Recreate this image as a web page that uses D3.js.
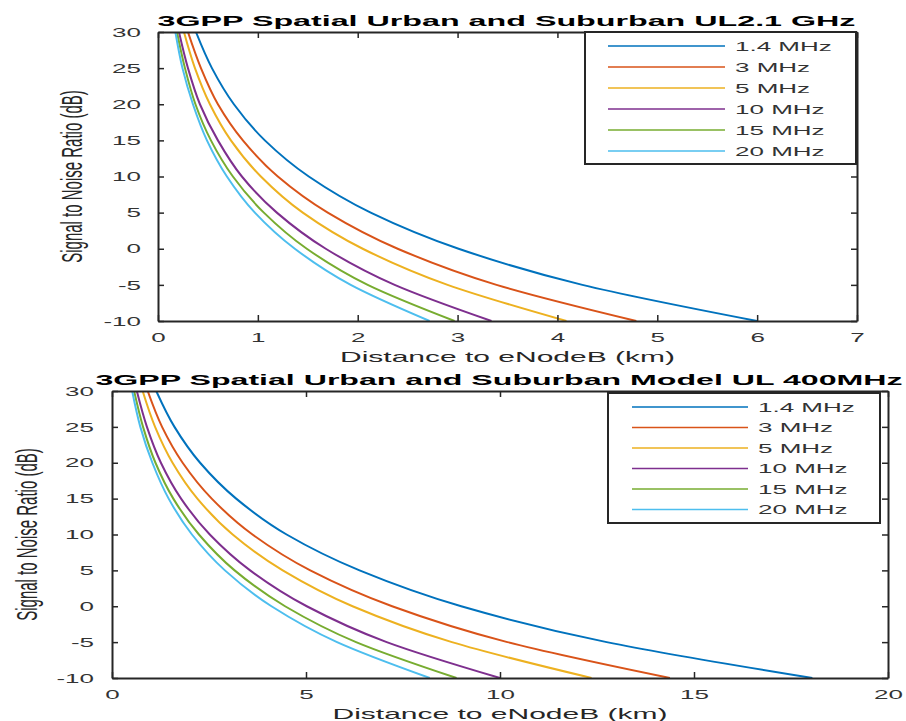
<!DOCTYPE html>
<html>
<head>
<meta charset="utf-8">
<script src="https://cdn.jsdelivr.net/npm/d3@7"></script>
<style>
  body { margin: 0; background: #fff; }
  svg { display: block; }
  text { font-family: Arial, "Liberation Sans", Helvetica, sans-serif; }
</style>
</head>
<body>
<svg id="chart" width="906" height="721"></svg>
<script>
// legend entries (channel bandwidth)
const bandLabels = ["1.4 MHz", "3 MHz", "5 MHz", "10 MHz", "15 MHz", "20 MHz"];
const snrLevels = [30, 25, 20, 15, 10, 5, 0, -5, -10];
// distance (km) per bandwidth, UL 2.1 GHz
const dist2100 = [
  [0.38, 0.54, 0.76, 1.07, 1.51, 2.13, 3.01, 4.25, 6.0],
  [0.30, 0.43, 0.60, 0.85, 1.20, 1.70, 2.40, 3.39, 4.79],
  [0.26, 0.37, 0.52, 0.73, 1.03, 1.45, 2.05, 2.90, 4.09],
  [0.21, 0.30, 0.42, 0.60, 0.84, 1.19, 1.68, 2.37, 3.34],
  [0.19, 0.27, 0.375, 0.53, 0.75, 1.06, 1.49, 2.10, 2.97],
  [0.174, 0.245, 0.35, 0.49, 0.69, 0.97, 1.37, 1.93, 2.72]
];
// distance (km) per bandwidth, UL 400 MHz
const dist400 = [
  [1.14, 1.61, 2.27, 3.20, 4.50, 6.38, 9.00, 12.75, 18.05],
  [0.92, 1.29, 1.82, 2.57, 3.62, 5.11, 7.22, 10.19, 14.38],
  [0.79, 1.11, 1.56, 2.20, 3.11, 4.40, 6.20, 8.76, 12.36],
  [0.64, 0.90, 1.26, 1.78, 2.52, 3.56, 5.02, 7.08, 10.0],
  [0.57, 0.80, 1.12, 1.58, 2.24, 3.16, 4.46, 6.29, 8.88],
  [0.52, 0.73, 1.04, 1.46, 2.06, 2.91, 4.11, 5.80, 8.19]
];
const xTicks2100 = [0, 1, 2, 3, 4, 5, 6, 7];
const xTicks400 = [0, 5, 10, 15, 20];
const yTicks = [-10, -5, 0, 5, 10, 15, 20, 25, 30];

const colors = ["#0072BD", "#D95319", "#EDB120", "#7E2F8E", "#77AC30", "#4DBEEE"];
const axisColor = "#262626";
const SX = 2; // the picture is stretched horizontally
const fmt = d => String(d);

const svg = d3.select("#chart");

function drawPanel(o) {
  const g = svg.append("g");
  const x = d3.scaleLinear().domain([0, o.xMax]).range([o.left, o.right]);
  const y = d3.scaleLinear().domain([-10, 30]).range([o.bottom, o.top]);

  const clipId = "clip" + o.id;
  svg.append("clipPath").attr("id", clipId)
    .append("rect")
    .attr("x", o.left).attr("y", o.top)
    .attr("width", o.right - o.left).attr("height", o.bottom - o.top);

  // curves (smooth along SNR, which is monotone)
  const line = d3.line()
    .x(d => x(d[0]))
    .y(d => y(d[1]))
    .curve(d3.curveMonotoneY);
  g.append("g").attr("clip-path", `url(#${clipId})`)
    .selectAll("path")
    .data(o.series)
    .join("path")
    .attr("fill", "none")
    .attr("stroke", (d, i) => colors[i])
    .attr("stroke-width", 2)
    .attr("d", d => line(d.map((v, k) => [v, snrLevels[k]])));

  // axes (ticks pointing inward, box on)
  const styleAxis = a => {
    a.selectAll(".domain").attr("stroke", axisColor).attr("stroke-width", 2);
    a.selectAll(".tick line").attr("stroke", axisColor).attr("stroke-width", 1.5);
  };
  const bottomAx = g.append("g").attr("transform", `translate(0,${o.bottom})`)
    .call(d3.axisBottom(x).tickValues(o.xTicks).tickFormat(fmt)
      .tickSize(-6).tickSizeOuter(0).tickPadding(12));
  bottomAx.selectAll(".tick text")
    .attr("font-size", 13).attr("fill", "#333")
    .attr("transform", `scale(${SX},1)`);
  styleAxis(bottomAx);

  const leftAx = g.append("g").attr("transform", `translate(${o.left},0)`)
    .call(d3.axisLeft(y).tickValues(yTicks).tickFormat(fmt)
      .tickSize(-6).tickSizeOuter(0).tickPadding(o.yPad));
  leftAx.selectAll(".tick text")
    .attr("font-size", 13).attr("fill", "#333")
    .attr("transform", function () {
      const tx = +this.getAttribute("x");
      return `translate(${tx},0) scale(${SX},1)`;
    })
    .attr("x", 0);
  styleAxis(leftAx);

  const topAx = g.append("g").attr("transform", `translate(0,${o.top})`)
    .call(d3.axisTop(x).tickValues(o.xTicks).tickSize(-6).tickSizeOuter(0).tickFormat(""));
  styleAxis(topAx);
  const rightAx = g.append("g").attr("transform", `translate(${o.right},0)`)
    .call(d3.axisRight(y).tickValues(yTicks).tickSize(-6).tickSizeOuter(0).tickFormat(""));
  styleAxis(rightAx);

  // title
  g.append("text")
    .attr("x", (o.left + o.right) / 2 + o.titleShift)
    .attr("y", o.titleY)
    .attr("text-anchor", "middle")
    .attr("font-size", 15.5)
    .attr("font-weight", "bold")
    .attr("fill", "#000")
    .attr("textLength", o.titleLen)
    .attr("lengthAdjust", "spacingAndGlyphs")
    .text(o.title);

  // axis labels
  g.append("text")
    .attr("transform", `translate(${(o.left + o.right) / 2},${o.xLabelY}) scale(${SX},1)`)
    .attr("text-anchor", "middle")
    .attr("font-size", 15)
    .attr("fill", axisColor)
    .text("Distance to eNodeB (km)");
  g.append("text")
    .attr("transform", `translate(${o.yLabelX},${(o.top + o.bottom) / 2}) scale(${SX},1) rotate(-90)`)
    .attr("text-anchor", "middle")
    .attr("font-size", 15)
    .attr("fill", axisColor)
    .text("Signal to Noise Ratio (dB)");

  // legend
  const lg = g.append("g");
  lg.append("rect")
    .attr("x", o.legend.x).attr("y", o.legend.y)
    .attr("width", o.legend.w).attr("height", o.legend.h)
    .attr("fill", "#fff")
    .attr("stroke", axisColor).attr("stroke-width", 2);
  const rows = lg.selectAll("g.row").data(bandLabels).join("g")
    .attr("class", "row")
    .attr("transform", (d, i) => `translate(0,${o.legend.y + o.legend.row0 + i * o.legend.step})`);
  rows.append("line")
    .attr("x1", o.legend.x1).attr("x2", o.legend.x2)
    .attr("stroke", (d, i) => colors[i]).attr("stroke-width", 1.3);
  rows.append("text")
    .attr("transform", `translate(${o.legend.tx},0) scale(${SX},1)`)
    .attr("dy", "0.35em")
    .attr("font-size", 13)
    .attr("fill", "#333")
    .text(d => d);
}

drawPanel({
  id: "a", series: dist2100, xMax: 7, xTicks: xTicks2100,
  left: 158, right: 857, top: 32, bottom: 321, yPad: 17,
  title: "3GPP Spatial Urban and Suburban UL2.1 GHz", titleY: 26, titleLen: 698, titleShift: -1,
  xLabelY: 362, yLabelX: 82,
  legend: { x: 585, y: 32, w: 271, h: 132, row0: 14, step: 21, x1: 608, x2: 725, tx: 735 }
});

drawPanel({
  id: "b", series: dist400, xMax: 20, xTicks: xTicks400,
  left: 112, right: 888, top: 391, bottom: 678, yPad: 18,
  title: "3GPP Spatial Urban and Suburban Model UL 400MHz", titleY: 385, titleLen: 807, titleShift: -1,
  xLabelY: 719, yLabelX: 37,
  legend: { x: 608, y: 393, w: 272, h: 130, row0: 14, step: 20.5, x1: 632, x2: 748, tx: 758 }
});
</script>
</body>
</html>
